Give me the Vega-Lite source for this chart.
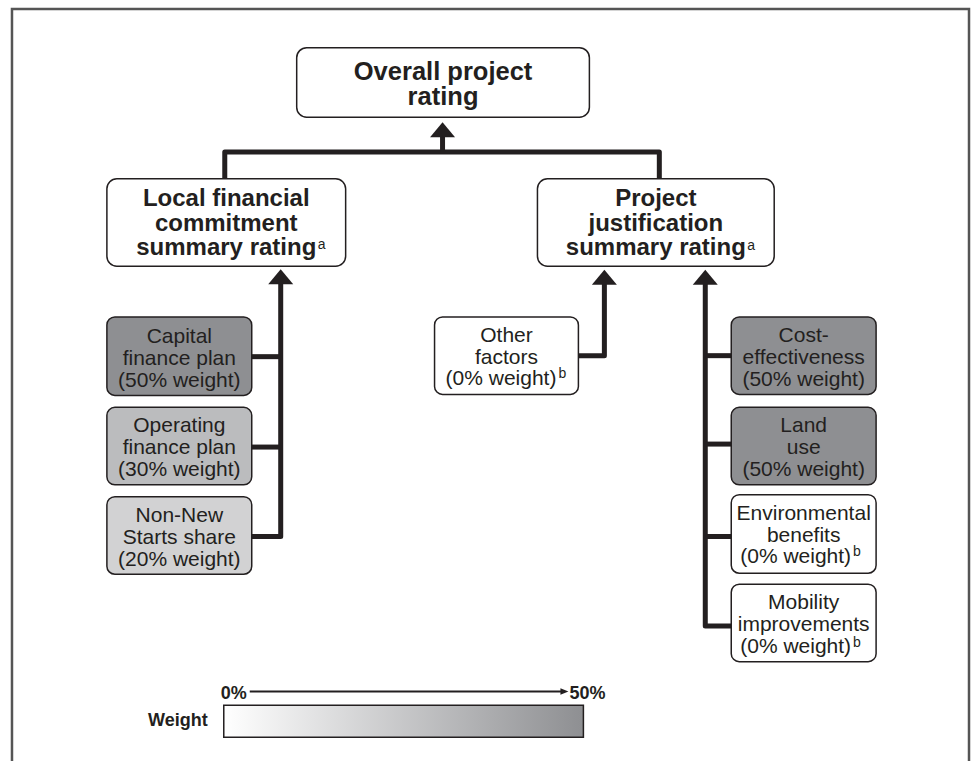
{
  "$schema": "https://vega.github.io/schema/vega-lite/v6.json",
  "width": 974,
  "height": 766,
  "padding": 0,
  "autosize": {"type": "fit", "contains": "padding"},
  "background": "#ffffff",
  "config": {"view": {"stroke": null}},
  "datasets": {
    "frame": [
      {"ord": 1, "x": 12, "y": 766},
      {"ord": 2, "x": 12, "y": 9},
      {"ord": 3, "x": 970, "y": 9},
      {"ord": 4, "x": 970, "y": 766}
    ],
    "boxes": [
      {"id": "overall", "kind": "top", "label": "Overall project\nrating", "x1": 297, "x2": 590, "y1": 48, "y2": 118, "cx": 443.5, "by": 81},
      {"id": "local", "kind": "summary", "label": "Local financial\ncommitment\nsummary rating", "x1": 107, "x2": 346, "y1": 180, "y2": 268, "cx": 226.5, "by": 207.5},
      {"id": "project", "kind": "summary", "label": "Project\njustification\nsummary rating", "x1": 538, "x2": 775, "y1": 180, "y2": 268, "cx": 656.5, "by": 207.5},
      {"id": "capital", "kind": "criterion", "weight": 50, "label": "Capital\nfinance plan\n(50% weight)", "x1": 107, "x2": 252, "y1": 319, "y2": 398, "cx": 179.5, "by": 345},
      {"id": "operating", "kind": "criterion", "weight": 30, "label": "Operating\nfinance plan\n(30% weight)", "x1": 107, "x2": 252, "y1": 410, "y2": 488, "cx": 179.5, "by": 435},
      {"id": "nonnew", "kind": "criterion", "weight": 20, "label": "Non-New\nStarts share\n(20% weight)", "x1": 107, "x2": 252, "y1": 500, "y2": 578, "cx": 179.5, "by": 525},
      {"id": "other", "kind": "criterion", "weight": 0, "label": "Other\nfactors", "x1": 435, "x2": 579, "y1": 319, "y2": 397, "cx": 507, "by": 344},
      {"id": "cost", "kind": "criterion", "weight": 50, "label": "Cost-\neffectiveness\n(50% weight)", "x1": 732, "x2": 877, "y1": 319, "y2": 397, "cx": 804.5, "by": 344},
      {"id": "land", "kind": "criterion", "weight": 50, "label": "Land\nuse\n(50% weight)", "x1": 732, "x2": 877, "y1": 410, "y2": 488, "cx": 804.5, "by": 435},
      {"id": "env", "kind": "criterion", "weight": 0, "label": "Environmental\nbenefits", "x1": 732, "x2": 877, "y1": 498, "y2": 577, "cx": 804.5, "by": 523},
      {"id": "mobility", "kind": "criterion", "weight": 0, "label": "Mobility\nimprovements", "x1": 732, "x2": 877, "y1": 588, "y2": 666, "cx": 804.5, "by": 613}
    ],
    "weightLines": [
      {"box": "other", "t": "(0% weight)", "x": 557, "y": 388},
      {"box": "env", "t": "(0% weight)", "x": 852, "y": 567},
      {"box": "mobility", "t": "(0% weight)", "x": 852, "y": 657}
    ],
    "links": [
      {"path": "top", "ord": 1, "x": 225, "y": 180},
      {"path": "top", "ord": 2, "x": 225, "y": 153},
      {"path": "top", "ord": 3, "x": 660, "y": 153},
      {"path": "top", "ord": 4, "x": 660, "y": 180},
      {"path": "stem", "ord": 1, "x": 443, "y": 153},
      {"path": "stem", "ord": 2, "x": 443, "y": 136},
      {"path": "leftspine", "ord": 1, "x": 281, "y": 284},
      {"path": "leftspine", "ord": 2, "x": 281, "y": 540},
      {"path": "leftspine", "ord": 3, "x": 252, "y": 540},
      {"path": "capital", "ord": 1, "x": 252, "y": 359},
      {"path": "capital", "ord": 2, "x": 281, "y": 359},
      {"path": "operating", "ord": 1, "x": 252, "y": 450},
      {"path": "operating", "ord": 2, "x": 281, "y": 450},
      {"path": "other", "ord": 1, "x": 579, "y": 358},
      {"path": "other", "ord": 2, "x": 605, "y": 358},
      {"path": "other", "ord": 3, "x": 605, "y": 284},
      {"path": "rightspine", "ord": 1, "x": 706, "y": 284},
      {"path": "rightspine", "ord": 2, "x": 706, "y": 630},
      {"path": "rightspine", "ord": 3, "x": 732, "y": 630},
      {"path": "cost", "ord": 1, "x": 706, "y": 358},
      {"path": "cost", "ord": 2, "x": 732, "y": 358},
      {"path": "land", "ord": 1, "x": 706, "y": 447},
      {"path": "land", "ord": 2, "x": 732, "y": 447},
      {"path": "env", "ord": 1, "x": 706, "y": 540},
      {"path": "env", "ord": 2, "x": 732, "y": 540}
    ],
    "arrows": [
      {"to": "overall", "x": 443, "y": 130.5},
      {"to": "local", "x": 281, "y": 278.5},
      {"to": "project-other", "x": 605, "y": 279},
      {"to": "project-criteria", "x": 706, "y": 279}
    ],
    "notes": [
      {"t": "a", "x": 318, "y": 251},
      {"t": "a", "x": 748, "y": 252},
      {"t": "b", "x": 559, "y": 380},
      {"t": "b", "x": 854, "y": 560},
      {"t": "b", "x": 854, "y": 651}
    ],
    "legendLine": [
      {"ord": 1, "x": 250, "y": 696},
      {"ord": 2, "x": 564, "y": 696}
    ],
    "legendHead": [
      {"x": 565, "y": 696}
    ],
    "legendEnds": [
      {"t": "0%", "x": 221, "y": 704},
      {"t": "50%", "x": 570, "y": 704}
    ],
    "legendTitle": [
      {"t": "Weight", "x": 208, "y": 731}
    ],
    "legendBar": [
      {"from": 0, "to": 50, "x1": 224, "x2": 584, "y1": 710, "y2": 742}
    ]
  },
  "layer": [
    {
      "data": {"name": "frame"},
      "mark": {"type": "line", "color": "#555555", "strokeWidth": 2.5, "strokeJoin": "miter"},
      "encoding": {
        "x": {"field": "x", "type": "quantitative", "scale": {"domain": [0, 974], "nice": false, "zero": false}, "axis": null},
        "y": {"field": "y", "type": "quantitative", "scale": {"domain": [0, 766], "nice": false, "zero": false, "reverse": true}, "axis": null},
        "order": {"field": "ord", "type": "quantitative"}
      }
    },
    {
      "data": {"name": "links"},
      "mark": {"type": "line", "color": "#231f20", "strokeWidth": 5, "strokeJoin": "round", "strokeCap": "butt"},
      "encoding": {
        "x": {"field": "x", "type": "quantitative", "scale": {"domain": [0, 974], "nice": false, "zero": false}, "axis": null},
        "y": {"field": "y", "type": "quantitative", "scale": {"domain": [0, 766], "nice": false, "zero": false, "reverse": true}, "axis": null},
        "detail": {"field": "path", "type": "nominal"},
        "order": {"field": "ord", "type": "quantitative"}
      }
    },
    {
      "data": {"name": "arrows"},
      "mark": {"type": "point", "shape": "M-1,0.6L0,-0.6L1,0.6Z", "size": 625, "filled": true, "color": "#231f20", "opacity": 1, "strokeWidth": 0},
      "encoding": {
        "x": {"field": "x", "type": "quantitative", "scale": {"domain": [0, 974], "nice": false, "zero": false}, "axis": null},
        "y": {"field": "y", "type": "quantitative", "scale": {"domain": [0, 766], "nice": false, "zero": false, "reverse": true}, "axis": null}
      }
    },
    {
      "data": {"name": "boxes"},
      "transform": [{"filter": "datum.kind !== 'criterion'"}],
      "mark": {"type": "rect", "fill": "#ffffff", "stroke": "#231f20", "strokeWidth": 1.5, "cornerRadius": 10},
      "encoding": {
        "x": {"field": "x1", "type": "quantitative", "scale": {"domain": [0, 974], "nice": false, "zero": false}, "axis": null},
        "x2": {"field": "x2"},
        "y": {"field": "y1", "type": "quantitative", "scale": {"domain": [0, 766], "nice": false, "zero": false, "reverse": true}, "axis": null},
        "y2": {"field": "y2"}
      }
    },
    {
      "data": {"name": "boxes"},
      "transform": [{"filter": "datum.kind === 'criterion'"}],
      "mark": {"type": "rect", "stroke": "#231f20", "strokeWidth": 1.5, "cornerRadius": 8, "opacity": 1},
      "encoding": {
        "x": {"field": "x1", "type": "quantitative", "scale": {"domain": [0, 974], "nice": false, "zero": false}, "axis": null},
        "x2": {"field": "x2"},
        "y": {"field": "y1", "type": "quantitative", "scale": {"domain": [0, 766], "nice": false, "zero": false, "reverse": true}, "axis": null},
        "y2": {"field": "y2"},
        "fill": {"field": "weight", "type": "quantitative", "scale": {"domain": [0, 50], "range": ["#ffffff", "#8e8f92"], "interpolate": "rgb"}, "legend": null}
      }
    },
    {
      "data": {"name": "boxes"},
      "transform": [{"filter": "datum.kind === 'top'"}],
      "mark": {"type": "text", "font": "Liberation Sans", "fontWeight": "bold", "fontSize": 25.5, "lineHeight": 25, "lineBreak": "\n", "align": "center", "baseline": "alphabetic", "color": "#231f20"},
      "encoding": {
        "x": {"field": "cx", "type": "quantitative", "scale": {"domain": [0, 974], "nice": false, "zero": false}, "axis": null},
        "y": {"field": "by", "type": "quantitative", "scale": {"domain": [0, 766], "nice": false, "zero": false, "reverse": true}, "axis": null},
        "text": {"field": "label", "type": "nominal"}
      }
    },
    {
      "data": {"name": "boxes"},
      "transform": [{"filter": "datum.kind === 'summary'"}],
      "mark": {"type": "text", "font": "Liberation Sans", "fontWeight": "bold", "fontSize": 24, "lineHeight": 24.5, "lineBreak": "\n", "align": "center", "baseline": "alphabetic", "color": "#231f20"},
      "encoding": {
        "x": {"field": "cx", "type": "quantitative", "scale": {"domain": [0, 974], "nice": false, "zero": false}, "axis": null},
        "y": {"field": "by", "type": "quantitative", "scale": {"domain": [0, 766], "nice": false, "zero": false, "reverse": true}, "axis": null},
        "text": {"field": "label", "type": "nominal"}
      }
    },
    {
      "data": {"name": "boxes"},
      "transform": [{"filter": "datum.kind === 'criterion'"}],
      "mark": {"type": "text", "font": "Liberation Sans", "fontSize": 21, "lineHeight": 22, "lineBreak": "\n", "align": "center", "baseline": "alphabetic", "color": "#231f20"},
      "encoding": {
        "x": {"field": "cx", "type": "quantitative", "scale": {"domain": [0, 974], "nice": false, "zero": false}, "axis": null},
        "y": {"field": "by", "type": "quantitative", "scale": {"domain": [0, 766], "nice": false, "zero": false, "reverse": true}, "axis": null},
        "text": {"field": "label", "type": "nominal"}
      }
    },
    {
      "data": {"name": "weightLines"},
      "mark": {"type": "text", "font": "Liberation Sans", "fontSize": 21, "align": "right", "baseline": "alphabetic", "color": "#231f20"},
      "encoding": {
        "x": {"field": "x", "type": "quantitative", "scale": {"domain": [0, 974], "nice": false, "zero": false}, "axis": null},
        "y": {"field": "y", "type": "quantitative", "scale": {"domain": [0, 766], "nice": false, "zero": false, "reverse": true}, "axis": null},
        "text": {"field": "t", "type": "nominal"}
      }
    },
    {
      "data": {"name": "notes"},
      "mark": {"type": "text", "font": "Liberation Sans", "fontSize": 14, "align": "left", "baseline": "alphabetic", "color": "#231f20"},
      "encoding": {
        "x": {"field": "x", "type": "quantitative", "scale": {"domain": [0, 974], "nice": false, "zero": false}, "axis": null},
        "y": {"field": "y", "type": "quantitative", "scale": {"domain": [0, 766], "nice": false, "zero": false, "reverse": true}, "axis": null},
        "text": {"field": "t", "type": "nominal"}
      }
    },
    {
      "data": {"name": "legendLine"},
      "mark": {"type": "line", "color": "#231f20", "strokeWidth": 2},
      "encoding": {
        "x": {"field": "x", "type": "quantitative", "scale": {"domain": [0, 974], "nice": false, "zero": false}, "axis": null},
        "y": {"field": "y", "type": "quantitative", "scale": {"domain": [0, 766], "nice": false, "zero": false, "reverse": true}, "axis": null},
        "order": {"field": "ord", "type": "quantitative"}
      }
    },
    {
      "data": {"name": "legendHead"},
      "mark": {"type": "point", "shape": "M-1,-0.8L1,0L-1,0.8Z", "size": 64, "filled": true, "color": "#231f20", "opacity": 1, "strokeWidth": 0},
      "encoding": {
        "x": {"field": "x", "type": "quantitative", "scale": {"domain": [0, 974], "nice": false, "zero": false}, "axis": null},
        "y": {"field": "y", "type": "quantitative", "scale": {"domain": [0, 766], "nice": false, "zero": false, "reverse": true}, "axis": null}
      }
    },
    {
      "data": {"name": "legendBar"},
      "mark": {
        "type": "rect",
        "stroke": "#231f20",
        "strokeWidth": 1.5,
        "fill": {"gradient": "linear", "x1": 0, "y1": 0, "x2": 1, "y2": 0, "stops": [{"offset": 0, "color": "#ffffff"}, {"offset": 1, "color": "#8e8f92"}]}
      },
      "encoding": {
        "x": {"field": "x1", "type": "quantitative", "scale": {"domain": [0, 974], "nice": false, "zero": false}, "axis": null},
        "x2": {"field": "x2"},
        "y": {"field": "y1", "type": "quantitative", "scale": {"domain": [0, 766], "nice": false, "zero": false, "reverse": true}, "axis": null},
        "y2": {"field": "y2"}
      }
    },
    {
      "data": {"name": "legendEnds"},
      "mark": {"type": "text", "font": "Liberation Sans", "fontWeight": "bold", "fontSize": 18, "align": "left", "baseline": "alphabetic", "color": "#231f20"},
      "encoding": {
        "x": {"field": "x", "type": "quantitative", "scale": {"domain": [0, 974], "nice": false, "zero": false}, "axis": null},
        "y": {"field": "y", "type": "quantitative", "scale": {"domain": [0, 766], "nice": false, "zero": false, "reverse": true}, "axis": null},
        "text": {"field": "t", "type": "nominal"}
      }
    },
    {
      "data": {"name": "legendTitle"},
      "mark": {"type": "text", "font": "Liberation Sans", "fontWeight": "bold", "fontSize": 18, "align": "right", "baseline": "alphabetic", "color": "#231f20"},
      "encoding": {
        "x": {"field": "x", "type": "quantitative", "scale": {"domain": [0, 974], "nice": false, "zero": false}, "axis": null},
        "y": {"field": "y", "type": "quantitative", "scale": {"domain": [0, 766], "nice": false, "zero": false, "reverse": true}, "axis": null},
        "text": {"field": "t", "type": "nominal"}
      }
    }
  ]
}
